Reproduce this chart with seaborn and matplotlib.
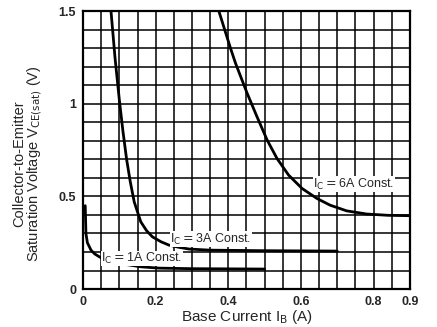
import numpy as np
import pandas as pd
import seaborn as sns
import matplotlib.pyplot as plt

# curves: base current (A) vs V_CE(sat) (V)
ib_1a = [0.006, 0.008, 0.012, 0.022, 0.032, 0.045, 0.06, 0.081, 0.1, 0.127, 0.16, 0.209, 0.3, 0.5]
vce_1a = [0.45, 0.30, 0.25, 0.21, 0.19, 0.174, 0.16, 0.147, 0.138, 0.13, 0.12, 0.113, 0.11, 0.108]
ib_3a = [0.077, 0.088, 0.10, 0.11, 0.12, 0.13, 0.141, 0.159, 0.175, 0.191, 0.215, 0.237, 0.265, 0.292, 0.35, 0.5, 0.7]
vce_3a = [1.5, 1.25, 1.02, 0.85, 0.70, 0.58, 0.47, 0.363, 0.315, 0.282, 0.255, 0.237, 0.225, 0.216, 0.21, 0.207, 0.205]
ib_6a = [0.374, 0.406, 0.42, 0.452, 0.479, 0.507, 0.534, 0.566, 0.603, 0.644, 0.68, 0.726, 0.781, 0.84, 0.9]
vce_6a = [1.5, 1.3, 1.218, 1.056, 0.93, 0.804, 0.705, 0.615, 0.543, 0.489, 0.453, 0.422, 0.405, 0.398, 0.396]

curve_names = ['1A', '3A', '6A']
x_ticks = [0, 0.2, 0.4, 0.6, 0.8, 0.9]
x_ticklabels = ['0', '0.2', '0.4', '0.6', '0.8', '0.9']
y_ticks = [0, 0.5, 1.0, 1.5]
y_ticklabels = ['0', '0.5', '1', '1.5']

sns.set_style("white")
plt.rcParams['font.family'] = ['Liberation Sans', 'DejaVu Sans']

dfs = []
for name, xs, ys in zip(curve_names, [ib_1a, ib_3a, ib_6a], [vce_1a, vce_3a, vce_6a]):
    d = pd.DataFrame({'Ib': xs, 'Vce': ys})
    d['curve'] = name
    dfs.append(d)
t = pd.concat(dfs).reset_index(drop=True)

fig = plt.figure(figsize=(4.37, 3.27), dpi=100)
ax = fig.add_axes([0.190, 0.116, 0.748, 0.850])

# grid every 0.05 A and 0.1 V
xg = np.round(np.arange(0, 0.9001, 0.05), 3)
yg = np.round(np.arange(0, 1.5001, 0.1), 3)
ax.set_xticks(xg)
ax.set_yticks(yg)
ax.set_xticklabels([x_ticklabels[x_ticks.index(v)] if v in x_ticks else '' for v in xg])
ax.set_yticklabels([y_ticklabels[y_ticks.index(v)] if v in y_ticks else '' for v in yg])
ax.grid(True, color='black', lw=1.1)
ax.set_axisbelow(True)
ax.tick_params(length=0, labelsize=9, pad=5)
for lab in ax.get_xticklabels() + ax.get_yticklabels():
    lab.set_fontweight('bold')

sns.lineplot(data=t, x='Ib', y='Vce', units='curve', estimator=None, color='black',
             lw=2.0, sort=False, ax=ax)

ax.set_xlim(0, 0.9)
ax.set_ylim(0, 1.5)
for s in ax.spines.values():
    s.set_color('black')
    s.set_linewidth(1.6)

box = dict(facecolor='white', edgecolor='none', pad=0.3)
ax.text(0.634, 0.567, r'I$_\mathrm{C}$$=$6A Const.', fontsize=9, va='center', bbox=box)
ax.text(0.24, 0.27, r'I$_\mathrm{C}$$=$3A Const.', fontsize=9, va='center', bbox=box)
ax.text(0.05, 0.165, r'I$_\mathrm{C}$$=$1A Const.', fontsize=9, va='center', bbox=box)

ax.set_xlabel(r'Base Current I$_\mathrm{B}$ (A)', fontsize=11)
ax.set_ylabel('Collector-to-Emitter\n' + r'Saturation Voltage V$_\mathrm{CE(sat)}$ (V)',
              fontsize=10.5, linespacing=1.0)
ax.yaxis.set_label_coords(-0.118, 0.45)
ax.xaxis.set_label_coords(0.5, -0.068)
ax.xaxis.label.set_va('top')

plt.savefig('out.png', dpi=100)
